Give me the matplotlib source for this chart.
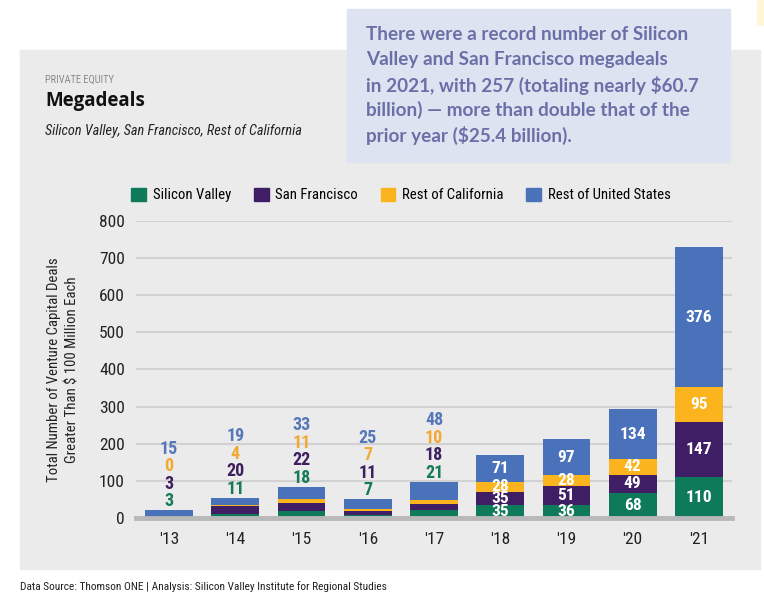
import matplotlib
matplotlib.use("Agg")
from matplotlib import pyplot as plt
from matplotlib import font_manager
from matplotlib.patches import Rectangle, Patch
import numpy as np

years = ["'13", "'14", "'15", "'16", "'17", "'18", "'19", "'20", "'21"]
silicon_valley = [3, 11, 18, 7, 21, 35, 36, 68, 110]
san_francisco = [3, 20, 22, 11, 18, 35, 51, 49, 147]
rest_of_california = [0, 4, 11, 7, 10, 28, 28, 42, 95]
rest_of_us = [15, 19, 33, 25, 48, 71, 97, 134, 376]
series_names = ["Silicon Valley", "San Francisco", "Rest of California", "Rest of United States"]

bar_colors = ["#0f7a5a", "#3f1e66", "#fbb41e", "#4a72ba"]
label_colors = ["#157a5a", "#3d1e5e", "#f2a933", "#5678bb"]

# look for a condensed face, the original uses one
fonts = font_manager.fontManager.ttflist
names = {f.name for f in fonts}
narrow, stretch = "Roboto", "normal"
for nm in ["Liberation Sans Narrow", "Roboto Condensed", "Open Sans Condensed"]:
    if nm in names:
        narrow = nm
        break
else:
    for nm in ["DejaVu Sans", "Noto Sans", "Open Sans"]:
        if any(f.name == nm and f.stretch in ("condensed", "semi-condensed") for f in fonts):
            narrow, stretch = nm, "condensed"
            break
plt.rcParams["font.family"] = [narrow, "DejaVu Sans"]
plt.rcParams["font.stretch"] = stretch

fig = plt.figure(figsize=(7.64, 5.94), dpi=100)
W, H = 764, 594

def fx(px):
    return px / W

def fy(py):
    return 1 - py / H

# gray panel + callout box
fig.patches.append(Rectangle((fx(20), fy(569)), fx(740), (569 - 50) / H,
                             transform=fig.transFigure, color="#ebebeb", zorder=-2))
fig.patches.append(Rectangle((fx(757), fy(25)), fx(10), 25 / H,
                             transform=fig.transFigure, color="#fdf6d8", zorder=-2))
fig.patches.append(Rectangle((fx(347), fy(162)), fx(383), (162 - 9) / H,
                             transform=fig.transFigure, color="#dde3f0", zorder=-1))

callout = ["There were a record number of Silicon",
           "Valley and San Francisco megadeals",
           "in 2021, with 257 (totaling nearly $60.7",
           "billion) \u2014 more than double that of the",
           "prior year ($25.4 billion)."]
for k, line in enumerate(callout):
    fig.text(fx(366), fy(35 + 25 * k), line, fontsize=13.6, fontweight="bold",
             family=["Lato", "DejaVu Sans"], fontstretch="normal", color="#6b6fa8",
             va="center", zorder=2)

fig.text(fx(45), fy(80), "PRIVATE EQUITY", fontsize=7.5, color="#8a8a8a", va="center")
fig.text(fx(45), fy(101), "Megadeals", fontsize=13.5, fontweight="bold", color="#111111",
         va="center", family=["Open Sans", "DejaVu Sans"], fontstretch="normal")
fig.text(fx(45), fy(131), "Silicon Valley, San Francisco, Rest of California", fontsize=10.3,
         style="italic", color="#222222", va="center")
fig.text(fx(20), fy(587), "Data Source: Thomson ONE | Analysis: Silicon Valley Institute for Regional Studies",
         fontsize=8.2, color="#222222", va="center")

ax = fig.add_axes([fx(136), fy(518), (732 - 136) / W, (518 - 220.7) / H])
ax.set_facecolor("none")
ax.set_zorder(2)

x = np.arange(len(years))
width = 0.72
stack = [silicon_valley, san_francisco, rest_of_california, rest_of_us]
bottom = np.zeros(len(years))
for vals, col, nm in zip(stack, bar_colors, series_names):
    ax.bar(x, vals, width, bottom=bottom, color=col, label=nm, zorder=3)
    bottom += np.array(vals)
totals = bottom

# value labels
for i in range(len(years)):
    if i < 5:
        for k, vals in enumerate(stack):
            ax.annotate(str(vals[i]), (x[i], totals[i]), xytext=(0, 6.5 + 12.6 * k),
                        textcoords="offset points", ha="center", va="center",
                        fontsize=13, fontweight="bold", color=label_colors[k], zorder=4)
    else:
        base = 0
        for k, vals in enumerate(stack):
            ax.text(x[i], base + vals[i] / 2, str(vals[i]), ha="center", va="center",
                    fontsize=12.5, fontweight="bold", color="white", zorder=4)
            base += vals[i]

ax.set_xlim(-0.5, 8.5)
ax.set_ylim(0, 800)
ax.set_yticks(range(0, 801, 100))
ax.set_xticks(x)
ax.set_xticklabels(years)
ax.tick_params(axis="both", length=0, labelsize=12.5, colors="#222222")
ax.tick_params(axis="x", pad=10)
ax.tick_params(axis="y", pad=8)
ax.grid(axis="y", color="#d2d2d2", linewidth=1.5, zorder=0)
for s in ax.spines.values():
    s.set_visible(False)
ax.axhline(0, color="#b8b8b8", linewidth=3.5, zorder=5, clip_on=False)

ax.set_ylabel("Total Number of Venture Capital Deals\nGreater Than $ 100 Million Each",
              fontsize=10.6, color="#222222", labelpad=14, linespacing=1.4)

handles = [Patch(color=c) for c in bar_colors]
fig.legend(handles, series_names, loc="center", bbox_to_anchor=(fx(401), fy(195)), ncol=4,
           frameon=False, fontsize=10.6, handlelength=1.0, handleheight=1.0,
           handletextpad=0.45, columnspacing=1.55)

fig.savefig("out.png", dpi=100)
